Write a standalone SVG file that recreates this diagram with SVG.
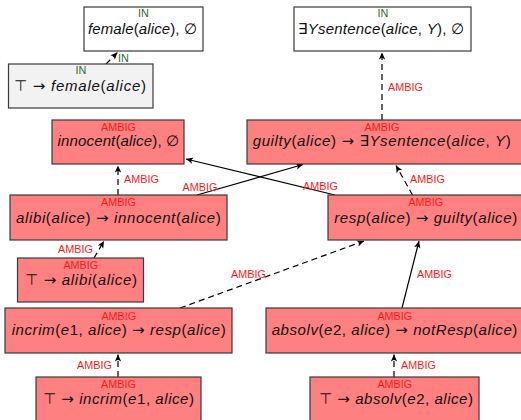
<svg xmlns="http://www.w3.org/2000/svg" width="521" height="420" viewBox="0 0 521 420">
  <style>
    .box { stroke: #3a3a3a; stroke-width: 1.2; }
    .amb { fill: #ff8080; }
    .axm { fill: #f2f2f2; }
    .main { font-family: "Liberation Sans", "DejaVu Sans", sans-serif; font-size: 15px; fill: #111; text-anchor: middle; }
    .it { font-style: italic; }
    .ar { font-family: "DejaVu Sans", sans-serif; font-size: 15px; }
    .tag { font-family: "Liberation Sans", "DejaVu Sans", sans-serif; font-size: 10.8px; text-anchor: middle; }
    .red { fill: #ff1a1a; }
    .grn { fill: #2e6b2e; }
    .elbl { font-family: "Liberation Sans", "DejaVu Sans", sans-serif; font-size: 10.8px; }
    .edge { stroke: #000; stroke-width: 1.2; fill: none; marker-end: url(#ah); }
    .dash { stroke-dasharray: 6 4; }
  </style>
  <defs>
    <marker id="ah" viewBox="0 0 8 8" refX="7.5" refY="4" markerWidth="8" markerHeight="8" orient="auto" markerUnits="userSpaceOnUse">
      <path d="M0.5,0.8 L7.5,4 L0.5,7.2 L2.2,4 z" fill="#000"/>
    </marker>
  </defs>

  <rect width="521" height="420" fill="#fff"/>

  <!-- connectors -->
  <g id="connectors">
    <line class="edge dash" x1="106" y1="64" x2="117.5" y2="52.5"/>
    <text class="elbl grn" x="118" y="62">IN</text>

    <line class="edge dash" x1="382" y1="120" x2="382" y2="52.5"/>
    <text class="elbl red" x="388" y="90.5">AMBIG</text>

    <line class="edge dash" x1="118" y1="195" x2="118" y2="165.5"/>
    <text class="elbl red" x="124" y="183">AMBIG</text>

    <line class="edge" x1="335" y1="195" x2="186" y2="159"/>
    <text class="elbl red" x="303" y="189.5">AMBIG</text>

    <line class="edge" x1="197" y1="195" x2="303" y2="164.5"/>
    <text class="elbl red" x="182.5" y="191">AMBIG</text>

    <line class="edge dash" x1="412.5" y1="195" x2="396" y2="165.5"/>
    <text class="elbl red" x="410" y="183">AMBIG</text>

    <line class="edge dash" x1="94" y1="258" x2="104" y2="241"/>
    <text class="elbl red" x="58" y="252.5">AMBIG</text>

    <line class="edge dash" x1="180" y1="308" x2="364" y2="241"/>
    <text class="elbl red" x="231" y="277.5">AMBIG</text>

    <line class="edge" x1="402" y1="308" x2="419" y2="241"/>
    <text class="elbl red" x="417" y="277.5">AMBIG</text>

    <line class="edge dash" x1="118" y1="377" x2="118" y2="354.5"/>
    <text class="elbl red" x="77" y="369">AMBIG</text>

    <line class="edge dash" x1="394" y1="377" x2="394" y2="354.5"/>
    <text class="elbl red" x="401" y="368.5">AMBIG</text>
  </g>

  <!-- nodes -->
  <g id="n-female">
    <rect class="box" x="84" y="7" width="119" height="44" fill="#fff"/>
    <text class="tag grn" x="143.3" y="17">IN</text>
    <text class="main" x="142.5" y="33.5" textLength="109"><tspan class="it">female</tspan>(<tspan class="it">alice</tspan>), ∅</text>
  </g>

  <g id="n-top-female">
    <rect class="box axm" x="8.5" y="64" width="144.5" height="44"/>
    <text class="tag grn" x="80.8" y="74">IN</text>
    <text class="main" x="80" y="90.5" textLength="132">⊤ <tspan class="ar">→</tspan> <tspan class="it">female</tspan>(<tspan class="it">alice</tspan>)</text>
  </g>

  <g id="n-sentence">
    <rect class="box" x="294" y="7" width="177" height="44" fill="#fff"/>
    <text class="tag grn" x="383" y="17">IN</text>
    <text class="main" x="381" y="33.5" textLength="166">∃<tspan class="it">Ysentence</tspan>(<tspan class="it">alice</tspan>, <tspan class="it">Y</tspan>), ∅</text>
  </g>

  <g id="n-innocent">
    <rect class="box amb" x="52" y="120" width="132" height="44"/>
    <text class="tag red" x="118.5" y="130.7">AMBIG</text>
    <text class="main" x="118.3" y="146" textLength="121.6"><tspan class="it">innocent</tspan>(<tspan class="it">alice</tspan>), ∅</text>
  </g>

  <g id="n-guilty">
    <rect class="box amb" x="247" y="120" width="276" height="44"/>
    <text class="tag red" x="382" y="130.7">AMBIG</text>
    <text class="main" x="381.7" y="146" textLength="258"><tspan class="it">guilty</tspan>(<tspan class="it">alice</tspan>) <tspan class="ar">→</tspan> ∃<tspan class="it">Ysentence</tspan>(<tspan class="it">alice</tspan>, <tspan class="it">Y</tspan>)</text>
  </g>

  <g id="n-alibi">
    <rect class="box amb" x="10" y="195" width="217" height="45"/>
    <text class="tag red" x="118.5" y="206">AMBIG</text>
    <text class="main" x="118.3" y="222.5" textLength="204.7"><tspan class="it">alibi</tspan>(<tspan class="it">alice</tspan>) <tspan class="ar">→</tspan> <tspan class="it">innocent</tspan>(<tspan class="it">alice</tspan>)</text>
  </g>

  <g id="n-resp">
    <rect class="box amb" x="328" y="195" width="196" height="45"/>
    <text class="tag red" x="425.8" y="206">AMBIG</text>
    <text class="main" x="425.7" y="222.5" textLength="183"><tspan class="it">resp</tspan>(<tspan class="it">alice</tspan>) <tspan class="ar">→</tspan> <tspan class="it">guilty</tspan>(<tspan class="it">alice</tspan>)</text>
  </g>

  <g id="n-top-alibi">
    <rect class="box amb" x="17.5" y="258" width="126" height="44"/>
    <text class="tag red" x="80.8" y="269">AMBIG</text>
    <text class="main" x="81" y="285" textLength="112">⊤ <tspan class="ar">→</tspan> <tspan class="it">alibi</tspan>(<tspan class="it">alice</tspan>)</text>
  </g>

  <g id="n-incrim">
    <rect class="box amb" x="5" y="308" width="227" height="45"/>
    <text class="tag red" x="118.8" y="320">AMBIG</text>
    <text class="main" x="118.7" y="335" textLength="214"><tspan class="it">incrim</tspan>(<tspan class="it">e</tspan>1, <tspan class="it">alice</tspan>) <tspan class="ar">→</tspan> <tspan class="it">resp</tspan>(<tspan class="it">alice</tspan>)</text>
  </g>

  <g id="n-absolv">
    <rect class="box amb" x="266" y="308" width="258" height="45"/>
    <text class="tag red" x="394.8" y="320">AMBIG</text>
    <text class="main" x="394.5" y="335" textLength="245.6"><tspan class="it">absolv</tspan>(<tspan class="it">e</tspan>2, <tspan class="it">alice</tspan>) <tspan class="ar">→</tspan> <tspan class="it">notResp</tspan>(<tspan class="it">alice</tspan>)</text>
  </g>

  <g id="n-top-incrim">
    <rect class="box amb" x="36" y="377" width="165" height="46"/>
    <text class="tag red" x="118.5" y="388.3">AMBIG</text>
    <text class="main" x="118.5" y="404" textLength="151">⊤ <tspan class="ar">→</tspan> <tspan class="it">incrim</tspan>(<tspan class="it">e</tspan>1, <tspan class="it">alice</tspan>)</text>
  </g>

  <g id="n-top-absolv">
    <rect class="box amb" x="310" y="377" width="169" height="46"/>
    <text class="tag red" x="394.8" y="388.3">AMBIG</text>
    <text class="main" x="396" y="404" textLength="154">⊤ <tspan class="ar">→</tspan> <tspan class="it">absolv</tspan>(<tspan class="it">e</tspan>2, <tspan class="it">alice</tspan>)</text>
  </g>
</svg>
